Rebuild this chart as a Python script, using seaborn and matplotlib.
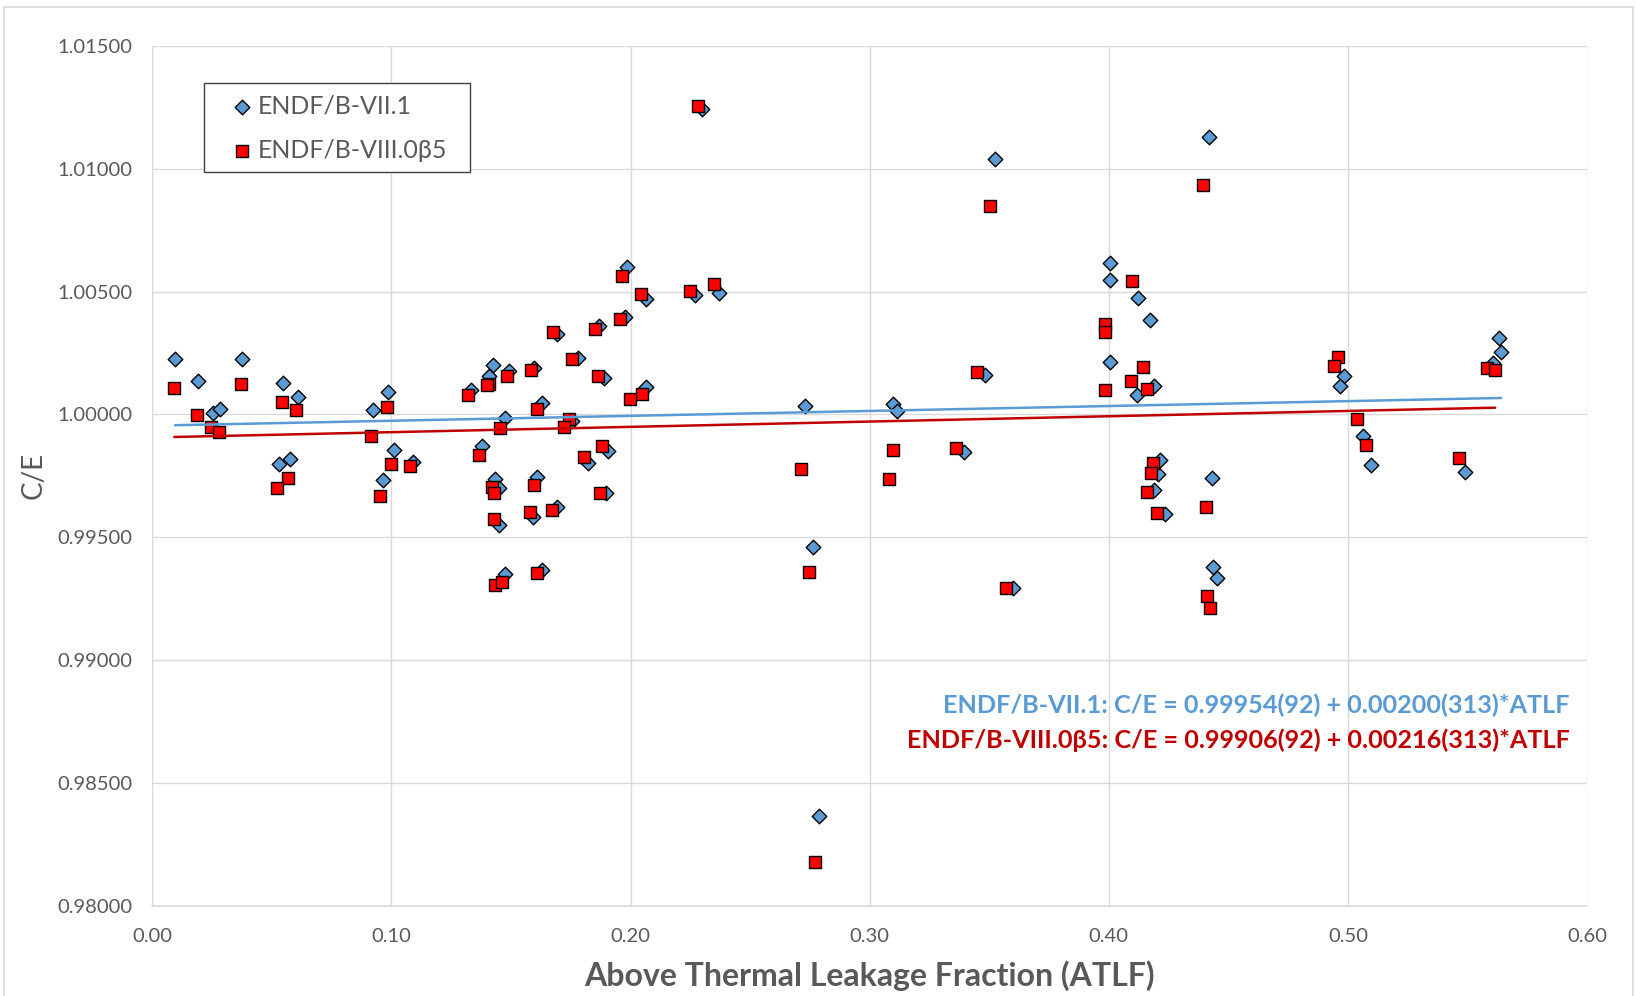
import numpy as np
import pandas as pd
import matplotlib
matplotlib.use("Agg")
import matplotlib.pyplot as plt
from matplotlib.patches import Rectangle
import seaborn as sns

# ---------------- data ----------------
vii1_atlf = [0.0095, 0.0190, 0.0253, 0.0283, 0.0376, 0.0545, 0.0611, 0.0530, 0.0576, 0.0924,
             0.0987, 0.1010, 0.1092, 0.0966, 0.1691, 0.1868, 0.1978, 0.1780, 0.1598, 0.1889,
             0.1490, 0.1426, 0.1410, 0.1334, 0.2065, 0.1629, 0.1474, 0.1757, 0.1379, 0.1907,
             0.1821, 0.1432, 0.1449, 0.1610, 0.1896, 0.1593, 0.1691, 0.1449, 0.1476, 0.1630,
             0.1987, 0.2065, 0.2299, 0.2270, 0.2371, 0.3523, 0.2731, 0.2763, 0.3099, 0.3116,
             0.3481, 0.3395, 0.3601, 0.2788, 0.4007, 0.4007, 0.4122, 0.4171, 0.4007, 0.4190,
             0.4116, 0.4214, 0.4206, 0.4190, 0.4236, 0.4433, 0.4421, 0.4437, 0.4454, 0.4985,
             0.4967, 0.5065, 0.5097, 0.5490, 0.5631, 0.5641, 0.5606]
vii1_ce = [1.00224, 1.00134, 1.00007, 1.00023, 1.00224, 1.00129, 1.00069, 0.99796, 0.99817, 1.00018,
           1.00092, 0.99857, 0.99807, 0.99733, 1.00327, 1.00360, 1.00397, 1.00229, 1.00190, 1.00148,
           1.00178, 1.00202, 1.00156, 1.00098, 1.00110, 1.00045, 0.99986, 0.99972, 0.99872, 0.99852,
           0.99802, 0.99739, 0.99699, 0.99746, 0.99681, 0.99583, 0.99624, 0.99548, 0.99350, 0.99366,
           1.00601, 1.00470, 1.01242, 1.00486, 1.00493, 1.01038, 1.00034, 0.99461, 1.00042, 1.00013,
           1.00161, 0.99846, 0.99293, 0.98365, 1.00617, 1.00547, 1.00472, 1.00384, 1.00212, 1.00114,
           1.00077, 0.99814, 0.99756, 0.99692, 0.99594, 0.99741, 1.01130, 0.99377, 0.99332, 1.00156,
           1.00117, 0.99912, 0.99792, 0.99767, 1.00309, 1.00255, 1.00210]

viii_atlf = [0.0092, 0.0188, 0.0247, 0.0279, 0.0372, 0.0541, 0.0601, 0.0916, 0.0980, 0.0566,
             0.0520, 0.0998, 0.1078, 0.0954, 0.1675, 0.1850, 0.1955, 0.1757, 0.1584, 0.1864,
             0.1482, 0.1410, 0.1399, 0.1320, 0.2048, 0.1998, 0.1610, 0.1741, 0.1720, 0.1456,
             0.1365, 0.1882, 0.1807, 0.1419, 0.1429, 0.1598, 0.1874, 0.1581, 0.1672, 0.1429,
             0.1435, 0.1461, 0.1610, 0.1966, 0.2043, 0.2281, 0.2249, 0.2348, 0.3502, 0.2713,
             0.2745, 0.3099, 0.3082, 0.3448, 0.3363, 0.3569, 0.2772, 0.4097, 0.3983, 0.3983,
             0.4145, 0.4094, 0.3983, 0.4161, 0.4185, 0.4176, 0.4159, 0.4203, 0.4407, 0.4393,
             0.4412, 0.4424, 0.4960, 0.4943, 0.5039, 0.5075, 0.5465, 0.5581, 0.5616]
viii_ce = [1.00107, 0.99996, 0.99947, 0.99929, 1.00123, 1.00051, 1.00018, 0.99913, 1.00030, 0.99742,
           0.99701, 0.99800, 0.99791, 0.99667, 1.00334, 1.00349, 1.00389, 1.00226, 1.00179, 1.00156,
           1.00156, 1.00123, 1.00120, 1.00079, 1.00085, 1.00064, 1.00020, 0.99982, 0.99948, 0.99944,
           0.99834, 0.99872, 0.99827, 0.99705, 0.99681, 0.99711, 0.99678, 0.99602, 0.99610, 0.99573,
           0.99305, 0.99317, 0.99353, 1.00563, 1.00489, 1.01257, 1.00503, 1.00529, 1.00849, 0.99776,
           0.99358, 0.99855, 0.99739, 1.00172, 0.99864, 0.99293, 0.98178, 1.00544, 1.00367, 1.00336,
           1.00191, 1.00136, 1.00098, 1.00102, 0.99802, 0.99761, 0.99683, 0.99600, 0.99621, 1.00935,
           0.99261, 0.99213, 1.00232, 1.00198, 0.99982, 0.99875, 0.99821, 1.00190, 1.00180]

series_names = ["ENDF/B-VII.1", "ENDF/B-VIII.0β5"]
fit_intercepts = [0.99954, 0.99906]
fit_slopes = [0.00200, 0.00216]
fit_labels = ["ENDF/B-VII.1: C/E = 0.99954(92) + 0.00200(313)*ATLF",
              "ENDF/B-VIII.0β5: C/E = 0.99906(92) + 0.00216(313)*ATLF"]
x_ticks = [0.00, 0.10, 0.20, 0.30, 0.40, 0.50, 0.60]
y_ticks = [0.98000, 0.98500, 0.99000, 0.99500, 1.00000, 1.00500, 1.01000, 1.01500]

# ---------------- style ----------------
sns.set_theme(style="white")
plt.rcParams["font.family"] = ["Lato", "DejaVu Sans"]

BLUE = "#5B9BD5"
RED_FILL = "#FF0000"
DARK_RED = "#C00000"
GRAY_TXT = "#595959"
GRID = "#D9D9D9"

fig = plt.figure(figsize=(16.36, 9.96), dpi=100)
fig.patch.set_facecolor("white")
ax = fig.add_axes([152.3 / 1636, 1 - 905.7 / 996, (1587 - 152.3) / 1636, (905.7 - 45.9) / 996])

# chart border
fig.patches.append(Rectangle((3.5 / 1636, -0.05), (1633 - 3.5) / 1636, 1.05 - 7 / 996,
                             transform=fig.transFigure, fill=False, edgecolor=GRID, lw=1.2))

df_a = pd.DataFrame({"ATLF": vii1_atlf, "CE": vii1_ce})
df_b = pd.DataFrame({"ATLF": viii_atlf, "CE": viii_ce})

sns.scatterplot(data=df_a, x="ATLF", y="CE", ax=ax, marker="D", s=55, color=BLUE,
                edgecolor="black", linewidth=1.0, label=series_names[0], zorder=3)
sns.scatterplot(data=df_b, x="ATLF", y="CE", ax=ax, marker="s", s=75, color=RED_FILL,
                edgecolor="black", linewidth=1.0, label=series_names[1], zorder=4)

# trend lines
for df, a, b, c in [(df_a, fit_intercepts[0], fit_slopes[0], BLUE),
                    (df_b, fit_intercepts[1], fit_slopes[1], DARK_RED)]:
    xs = np.array([df["ATLF"].min(), df["ATLF"].max()])
    sns.lineplot(x=xs, y=a + b * xs, ax=ax, color=c, lw=1.8, zorder=5, legend=False)

ax.set_xlim(0, 0.6)
ax.set_ylim(0.98, 1.015)
ax.set_xticks(x_ticks)
ax.set_yticks(y_ticks)
ax.set_xticklabels([f"{v:.2f}" for v in x_ticks])
ax.set_yticklabels([f"{v:.5f}" for v in y_ticks])
ax.tick_params(axis="both", length=0, labelsize=14.5, labelcolor=GRAY_TXT)
ax.tick_params(axis="y", pad=14)
ax.tick_params(axis="x", pad=16)
ax.grid(True, color=GRID, lw=1.0, zorder=0)
ax.set_axisbelow(True)
for sp in ax.spines.values():
    sp.set_visible(False)
ax.spines["bottom"].set_visible(True)
ax.spines["bottom"].set_color(GRID)
ax.spines["bottom"].set_linewidth(1.2)

ax.set_xlabel("Above Thermal Leakage Fraction (ATLF)", fontsize=23, fontweight="bold",
              color=GRAY_TXT)
ax.set_ylabel("C/E", fontsize=20, color=GRAY_TXT)
ax.xaxis.set_label_coords(0.5, -0.064)
ax.yaxis.set_label_coords(-0.074, 0.5)

# equations
ax.text(0.9878, 0.2241, fit_labels[0], transform=ax.transAxes, ha="right", va="baseline",
        fontsize=18.2, fontweight="bold", color=BLUE)
ax.text(0.9878, 0.1834, fit_labels[1], transform=ax.transAxes, ha="right", va="baseline",
        fontsize=18.2, fontweight="bold", color=DARK_RED)

# legend (frame drawn as a separate box to match the reference padding)
leg = ax.legend(loc="upper left", bbox_to_anchor=(0.036, 0.9565), borderaxespad=0,
                frameon=False, fontsize=18,
                handlelength=2.2, handletextpad=-0.48, borderpad=0.44, labelspacing=0.85)
for t in leg.get_texts():
    t.set_color(GRAY_TXT)
ax.add_patch(Rectangle((0.0357, 0.8531), 0.2211 - 0.0357, 0.9563 - 0.8531,
                       transform=ax.transAxes, fill=True, facecolor="white",
                       edgecolor="#404040", lw=1.0, zorder=6))
leg.set_zorder(7)

fig.savefig("out.png", dpi=100)
